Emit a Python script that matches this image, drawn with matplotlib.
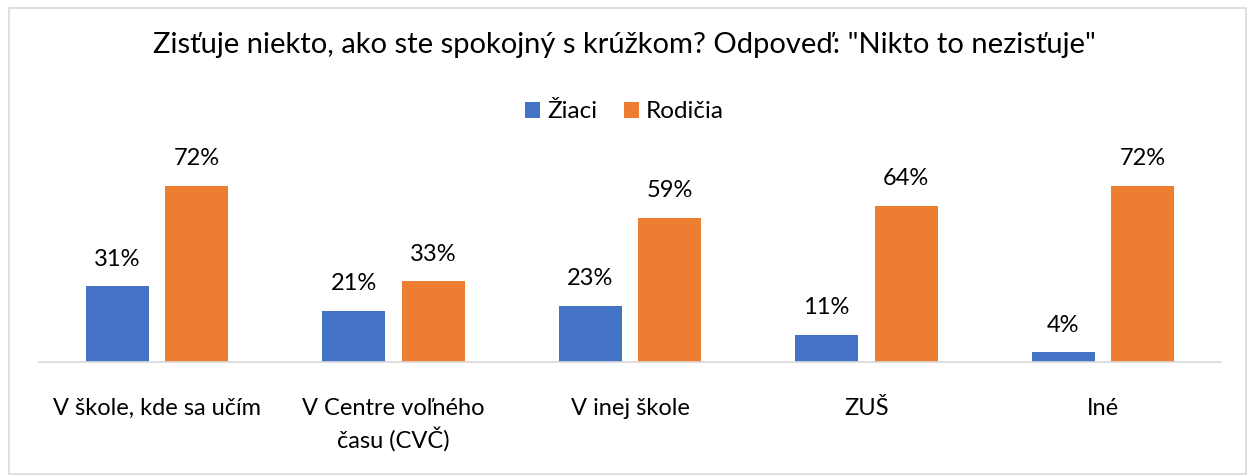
import matplotlib
matplotlib.use("Agg")
import matplotlib.pyplot as plt
from matplotlib.patches import Rectangle
import numpy as np

plt.rcParams['font.family'] = ['Lato', 'DejaVu Sans']

title = u'Zisťuje niekto, ako ste spokojný s krúžkom? Odpoveď: "Nikto to nezisťuje"'
categories = [u"V škole, kde sa učím", u"V Centre voľného\nčasu (CVČ)", u"V inej škole", u"ZUŠ", u"Iné"]
ziaci = [31, 21, 23, 11, 4]
rodicia = [72, 33, 59, 64, 72]
series_names = [u"Žiaci", u"Rodičia"]

BLUE = "#4472C4"
ORANGE = "#ED7D31"

W, H = 1249, 476
fig = plt.figure(figsize=(W / 100, H / 100), dpi=100)

# outer chart border
fig.patches.append(Rectangle((9 / W, 2 / H), (W - 12) / W, (H - 10) / H,
                             transform=fig.transFigure, fill=False,
                             edgecolor="#D9D9D9", linewidth=1.2))

ax = fig.add_axes([39 / W, (H - 362) / H, 1182 / W, 195.5 / H])
x = np.arange(len(categories))
bw = 0.266
off = 0.168
b1 = ax.bar(x - off, ziaci, bw, color=BLUE, label=series_names[0])
b2 = ax.bar(x + off, rodicia, bw, color=ORANGE, label=series_names[1])

for bars, vals in ((b1, ziaci), (b2, rodicia)):
    for r, v in zip(bars, vals):
        ax.annotate("%d%%" % v, (r.get_x() + r.get_width() / 2, v),
                    xytext=(0, 12), textcoords="offset points",
                    ha="center", va="bottom", fontsize=17, color="#000000")

ax.set_xlim(-0.5, len(categories) - 0.5)
ax.set_ylim(0, 80)
ax.set_xticks(x)
ax.set_xticklabels(categories, fontsize=17, linespacing=1.35)
ax.tick_params(axis="x", length=0, pad=26)
ax.set_yticks([])
for s in ("top", "right", "left"):
    ax.spines[s].set_visible(False)
ax.spines["bottom"].set_color("#D9D9D9")
ax.spines["bottom"].set_linewidth(1.2)

fig.text(0.5, 1 - 45 / H, title, ha="center", va="center", fontsize=21)
fig.legend(handles=[b1, b2], labels=series_names, loc="center",
           bbox_to_anchor=(0.5, 1 - 112 / H), ncol=2, frameon=False,
           fontsize=17.5, handlelength=0.6, handleheight=0.6,
           handletextpad=0.3, columnspacing=1.1)

fig.savefig("out.png", dpi=100)
